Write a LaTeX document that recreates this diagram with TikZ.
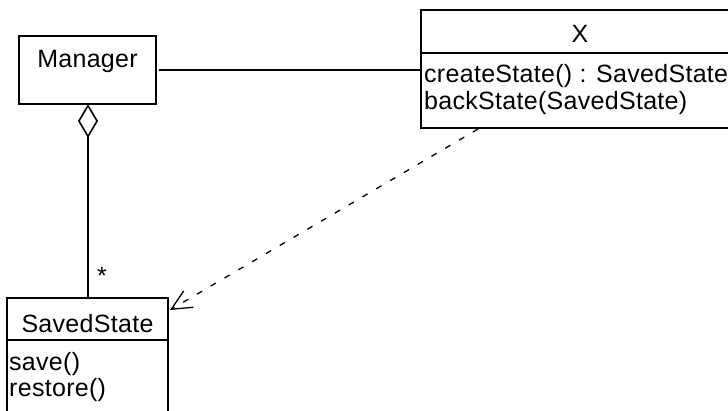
\documentclass[tikz,border=0pt]{standalone}
\usepackage{fontspec}
\setmainfont{Liberation Sans}[LetterSpace=1.2]
\usetikzlibrary{arrows.meta,calc}
\begin{document}
\begin{tikzpicture}[x=1pt,y=-1pt,
  box/.style={draw, line width=1.6pt, inner sep=0pt, rectangle},
  lbl/.style={inner sep=0pt, font=\fontsize{25}{30}\selectfont, anchor=base},
  meth/.style={lbl, anchor=base west},
  assoc/.style={line width=1.6pt},
  dep/.style={line width=1.3pt, dash pattern=on 6pt off 10pt, -{Straight Barb[length=20pt,width=19pt,line width=1.3pt]}}
]
\useasboundingbox (0,0) rectangle (728,410);
% Manager
\node[box, minimum width=137, minimum height=68] (mgr) at (87.5,70) {};
\node[lbl] (mgrname) at (87.5,67) {Manager};
% X
\node[box, minimum width=318, minimum height=118] (xc) at (580,69) {};
\draw[line width=1.6pt] (421,53) -- (739,53);
\node[lbl] (xname) at (580,42) {X};
\node[meth] (m1) at (424,82) {createState() : SavedState};
\node[meth] (m2) at (424,109) {backState(SavedState)};
% SavedState
\node[box, minimum width=161, minimum height=132] (ss) at (87.5,364) {};
\draw[line width=1.6pt] (7,340) -- (168,340);
\node[lbl] (ssname) at (87.5,332) {SavedState};
\node[meth] (s1) at (9,370) {save()};
\node[meth] (s2) at (9,396) {restore()};
% connectors
\coordinate (mgrR) at (159,70);
\draw[assoc] (mgrR) -- (xc.west |- mgrR);
\coordinate (ssTop) at (88,298);
\coordinate (mgrBot) at (88,104);
\draw[line width=1.6pt, -{Diamond[open, length=34pt, width=20pt, line width=1.6pt]}] (ssTop) -- (mgrBot);
\node[lbl] (mult) at (102,284) {*};
\coordinate (xB) at (478,129);
\coordinate (ssR) at (170,310);
\draw[dep] (xB) -- (ssR);
\end{tikzpicture}
\end{document}
